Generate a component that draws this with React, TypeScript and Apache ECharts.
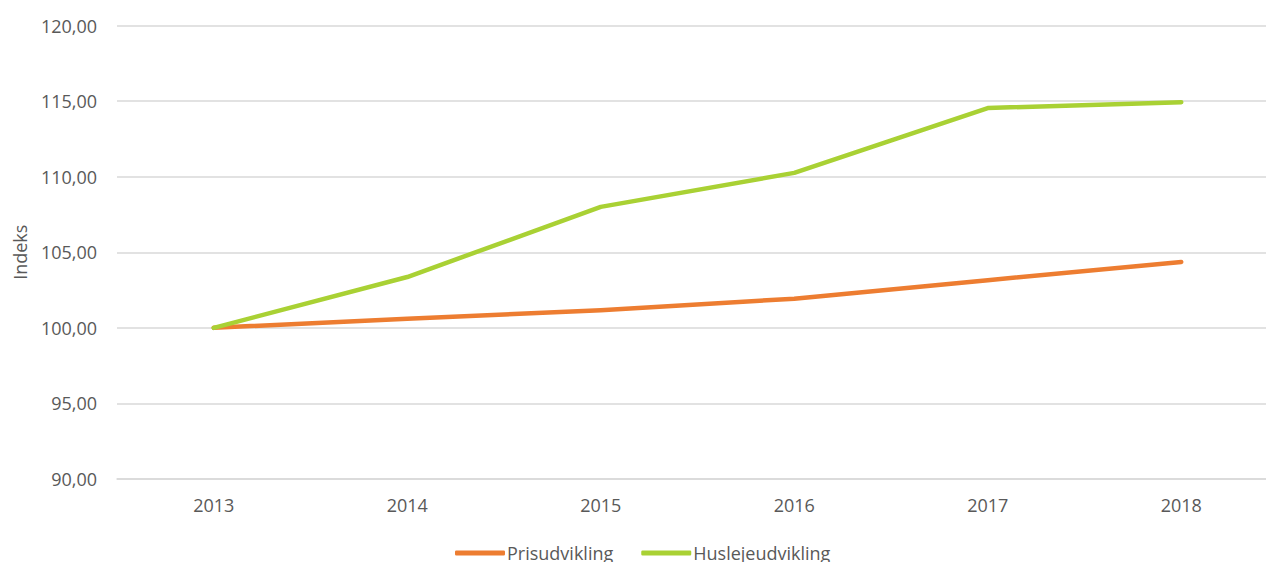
import React, { useEffect, useRef } from "react";
import * as echarts from "echarts";

const years = ["2013", "2014", "2015", "2016", "2017", "2018"];
const prisudvikling = [100.0, 100.6, 101.16, 101.93, 103.15, 104.36];
const huslejeudvikling = [100.0, 103.36, 108.0, 110.25, 114.54, 114.93];
const seriesNames = ["Prisudvikling", "Huslejeudvikling"];
const yAxisName = "Indeks";

export default function App() {
  const ref = useRef<HTMLDivElement>(null);
  useEffect(() => {
    if (!ref.current) return;
    const chart = echarts.init(ref.current, null, { renderer: "svg" });
    const font = "'Open Sans', sans-serif";
    chart.setOption({
      animation: false,
      textStyle: { fontFamily: font },
      grid: { left: 117, right: 0, top: 25.5, bottom: 83, containLabel: false, outerBoundsMode: "none" },
      legend: {
        left: 450,
        top: 538,
        icon: "roundRect",
        itemWidth: 50,
        itemHeight: 5,
        itemGap: 28,
        data: seriesNames,
        textStyle: { color: "#595959", fontSize: 18, fontFamily: font, lineHeight: 20, padding: [0, 0, 0, -3] },
      },
      xAxis: {
        type: "category",
        data: years,
        boundaryGap: true,
        axisLine: { show: true, lineStyle: { color: "#D9D9D9", width: 1.5 } },
        axisTick: { show: false },
        axisLabel: { color: "#595959", fontSize: 18, fontFamily: font, margin: 17 },
      },
      yAxis: {
        type: "value",
        min: 90,
        max: 120,
        interval: 5,
        name: yAxisName,
        nameLocation: "middle",
        nameRotate: 90,
        nameGap: 88,
        nameTextStyle: { color: "#595959", fontSize: 18, fontFamily: font },
        axisLine: { show: false },
        axisTick: { show: false },
        axisLabel: {
          color: "#595959",
          fontSize: 18,
          fontFamily: font,
          margin: 20,
          formatter: (v: number) => v.toFixed(2).replace(".", ","),
        },
        splitLine: { lineStyle: { color: "#D9D9D9", width: 1.5 } },
      },
      series: [
        {
          name: seriesNames[0],
          type: "line",
          data: prisudvikling,
          symbol: "none",
          itemStyle: { color: "#ED7D31" },
          lineStyle: { color: "#ED7D31", width: 4.5, cap: "round", join: "round" },
        },
        {
          name: seriesNames[1],
          type: "line",
          data: huslejeudvikling,
          symbol: "none",
          itemStyle: { color: "#A9D134" },
          lineStyle: { color: "#A9D134", width: 4.5, cap: "round", join: "round" },
        },
      ],
    });
    return () => chart.dispose();
  }, []);
  return (
    <div
      style={{ position: "fixed", left: 0, top: 0, width: 1266, height: 562, overflow: "hidden", background: "#fff" }}
    >
      <div ref={ref} style={{ width: 1278, height: 562 }} />
    </div>
  );
}
